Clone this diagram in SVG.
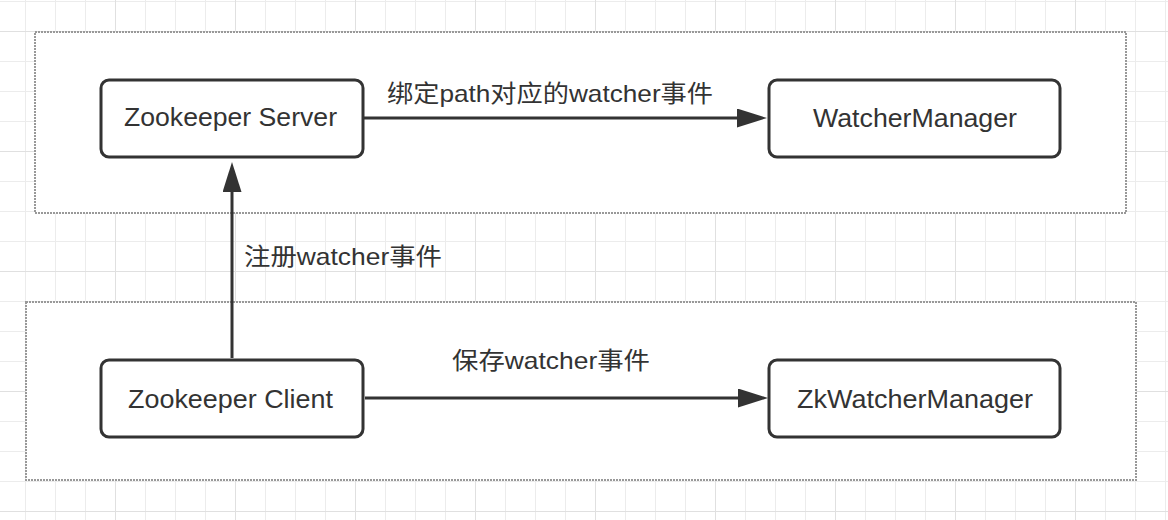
<svg xmlns="http://www.w3.org/2000/svg" width="1168" height="520" viewBox="0 0 1168 520">
  <style>
    .container { fill: #ffffff; stroke: #999999; stroke-width: 2; stroke-dasharray: 2 1; }
    .node rect { fill: #ffffff; stroke: #333333; stroke-width: 3; }
    .node text { font-family: "Liberation Sans", "Noto Sans", sans-serif; font-size: 26px; fill: #333333; }
    .edge { stroke: #333333; stroke-width: 3; fill: none; }
    .label { font-family: "Liberation Sans", "Noto Sans CJK SC", sans-serif; font-size: 24px; fill: #333333; }
  </style>
  <defs>
    <pattern id="grid" patternUnits="userSpaceOnUse" x="25" y="1" width="120" height="120">
      <path d="M0.5 0 V120 M30.5 0 V120 M60.5 0 V120 M0 0.5 H120 M0 60.5 H120 M0 90.5 H120" stroke="#ececec" stroke-width="1" fill="none"/>
      <path d="M90.5 0 V120 M0 30.5 H120" stroke="#e0e0e0" stroke-width="1" fill="none"/>
    </pattern>
    <marker id="arrow" markerUnits="userSpaceOnUse" markerWidth="30" markerHeight="20" refX="2" refY="9.5" orient="auto">
      <path d="M0 0 L30 9.5 L0 19 Z" fill="#333333"/>
    </marker>
  </defs>

  <rect x="0" y="0" width="1168" height="520" fill="#ffffff"/>
  <rect x="0" y="0" width="1168" height="520" fill="url(#grid)"/>

  <g id="server-container">
    <rect class="container" x="35" y="32" width="1091" height="181"/>
  </g>
  <g id="client-container">
    <rect class="container" x="26" y="302" width="1110" height="178"/>
  </g>

  <g id="connectors">
    <line class="edge" x1="364" y1="118" x2="739" y2="118" marker-end="url(#arrow)"/>
    <text class="label" x="387" y="102" textLength="326" lengthAdjust="spacingAndGlyphs">绑定path对应的watcher事件</text>
    <line class="edge" x1="232" y1="358" x2="232" y2="190" marker-end="url(#arrow)"/>
    <text class="label" x="244" y="265" textLength="198" lengthAdjust="spacingAndGlyphs">注册watcher事件</text>
    <line class="edge" x1="365" y1="398" x2="740" y2="398" marker-end="url(#arrow)"/>
    <text class="label" x="452" y="369" textLength="198" lengthAdjust="spacingAndGlyphs">保存watcher事件</text>
  </g>

  <g id="zookeeper-server" class="node">
    <rect x="101" y="80" width="262" height="77" rx="8"/>
    <text x="124" y="126" textLength="213" lengthAdjust="spacingAndGlyphs">Zookeeper Server</text>
  </g>
  <g id="watcher-manager" class="node">
    <rect x="769" y="80" width="291" height="77" rx="8"/>
    <text x="813" y="127" textLength="204" lengthAdjust="spacingAndGlyphs">WatcherManager</text>
  </g>
  <g id="zookeeper-client" class="node">
    <rect x="101" y="360" width="262" height="77" rx="8"/>
    <text x="128" y="408" textLength="205" lengthAdjust="spacingAndGlyphs">Zookeeper Client</text>
  </g>
  <g id="zk-watcher-manager" class="node">
    <rect x="769" y="360" width="291" height="77" rx="8"/>
    <text x="797" y="408" textLength="236" lengthAdjust="spacingAndGlyphs">ZkWatcherManager</text>
  </g>
</svg>
